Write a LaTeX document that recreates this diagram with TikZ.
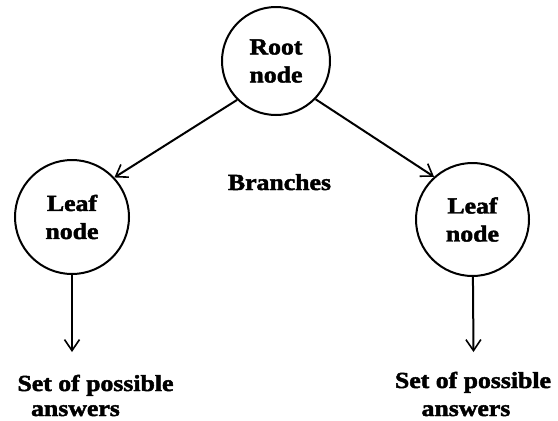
\documentclass[tikz,border=0pt]{standalone}
\usepackage{fontspec}
\newfontfamily\lbfont{Liberation Serif}[FakeStretch=1.12, BoldFeatures={FakeBold=2}]
\usetikzlibrary{arrows.meta}
\tikzset{
  txt/.style={font=\lbfont\bfseries\fontsize{23}{28}\selectfont, inner sep=0pt, text=black},
  circ/.style={txt, draw, circle, line width=2pt, align=center},
  arr/.style={line width=2pt, -{Straight Barb[length=11pt, width=15pt, line width=1.6pt]}}
}
\begin{document}
\begin{tikzpicture}[x=1pt, y=-1pt]
\useasboundingbox[fill=white] (0,0) rectangle (558,421);
\node[circ, minimum size=108pt] (root) at (276,61) {Root\\node};
\node[circ, minimum size=114pt] (leftleaf) at (72,217) {Leaf\\node};
\node[circ, minimum size=113pt] (rightleaf) at (472.5,219.5) {Leaf\\node};
\node[txt, anchor=base] (branches) at (279.5,190) {Branches};
\node[txt, anchor=base] (lset) at (95.5,391) {Set of possible};
\node[txt, anchor=base] (lans) at (75.5,416) {answers};
\node[txt, anchor=base] (rset) at (473,388) {Set of possible};
\node[txt, anchor=base] (rans) at (466,416) {answers};
\coordinate (la) at (72,352);
\coordinate (ra) at (473.5,352);
\draw[arr] (root.225) -- (leftleaf.43);
\draw[arr] (root.316) -- (rightleaf.132);
\draw[arr] (leftleaf) -- (la);
\draw[arr] (rightleaf) -- (ra);
\end{tikzpicture}
\end{document}
